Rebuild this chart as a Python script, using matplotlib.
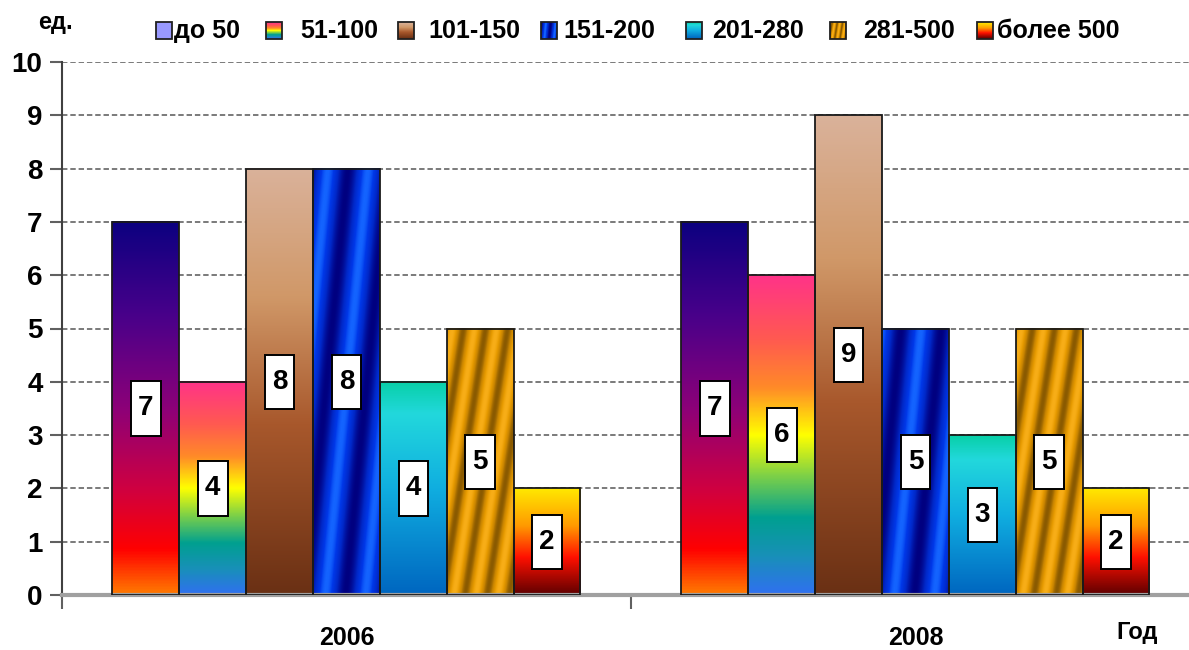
import numpy as np
import matplotlib
matplotlib.use('Agg')
import matplotlib.pyplot as plt
from matplotlib.colors import LinearSegmentedColormap
from matplotlib.patches import Rectangle

# ---------------- data ----------------
years = ['2006', '2008']
groups = ['до 50', '51-100', '101-150', '151-200', '201-280', '281-500', 'более 500']
values_2006 = [7, 4, 8, 8, 4, 5, 2]
values_2008 = [7, 6, 9, 5, 3, 5, 2]
yticks = list(range(0, 11))
y_unit = 'ед.'
x_unit = 'Год'

plt.rcParams['font.family'] = ['Liberation Sans', 'DejaVu Sans']
plt.rcParams['font.weight'] = 'bold'

# ---------------- styles ----------------
grad_stops = {
    0: [(0, '#0c0080'), (0.25, '#48008a'), (0.5, '#8c0078'), (0.72, '#d00040'), (0.88, '#ff0000'), (1, '#ff7a00')],
    1: [(0, '#ff3388'), (0.2, '#ff5a50'), (0.35, '#ff8a28'), (0.5, '#ffff00'), (0.63, '#7cd048'),
        (0.76, '#00a090'), (0.88, '#1890b8'), (1, '#3070f0')],
    2: [(0, '#dab29a'), (0.3, '#d09868'), (0.6, '#a8582c'), (1, '#6a3014')],
    4: [(0, '#08d0a8'), (0.15, '#22d8dc'), (0.5, '#10aee0'), (1, '#0066c0')],
    6: [(0, '#ffe800'), (0.35, '#ff9a00'), (0.65, '#ff1000'), (1, '#600000')],
}
stripe_styles = {
    3: ([(0, '#000080'), (0.45, '#0028c8'), (0.8, '#0038e8'), (1, '#1464ff')], 0.6, 0.1, 0.18),
    5: ([(0, '#8a5a00'), (0.35, '#c88400'), (0.7, '#e69a00'), (1, '#f8ae18')], 0.33, 0.16, 0.1),
}
legend_solid = {0: '#9999ff'}


def make_img(idx, H, W):
    H = max(int(H), 2)
    W = max(int(W), 2)
    if idx in grad_stops:
        cmap = LinearSegmentedColormap.from_list('g%d' % idx, grad_stops[idx])
        t = np.linspace(0, 1, H)
        col = cmap(t)[:, :3]
        return np.repeat(col[:, None, :], W, axis=1)
    stops, period, slant, phase = stripe_styles[idx]
    cmap = LinearSegmentedColormap.from_list('s%d' % idx, stops)
    r = np.arange(H)[:, None]
    c = np.arange(W)[None, :]
    yb = (H - 1 - r)
    u = (c - slant * yb) / W
    val = 0.5 + 0.5 * np.cos(2 * np.pi * (u - phase) / period)
    return cmap(val)[:, :, :3]


# ---------------- figure ----------------
W_PX, H_PX = 1189, 650
fig = plt.figure(figsize=(W_PX / 100, H_PX / 100), dpi=100)
ax_left = 62 / W_PX
ax_bottom = (H_PX - 595) / H_PX
ax_h = (595 - 62) / H_PX
ax = fig.add_axes([ax_left, ax_bottom, 1 - ax_left, ax_h])

n = len(groups)
bw = 0.1175
px_per_unit = 53.3
series = [values_2006, values_2008]
for yi, vals in enumerate(series):
    for gi, v in enumerate(vals):
        x0 = yi + (gi - n / 2) * bw
        img = make_img(gi, v * px_per_unit, 67)
        ax.imshow(img, extent=(x0, x0 + bw, 0, v), origin='upper', aspect='auto',
                  interpolation='bilinear', zorder=2)
        ax.add_patch(Rectangle((x0, 0), bw, v, fill=False, ec='#1a1a1a', lw=1.3, zorder=3))
        # value label box
        xc = x0 + bw / 2
        yc = v / 2
        lbw, lbh = 0.052, 1.02
        ax.add_patch(Rectangle((xc - lbw / 2, yc - lbh / 2), lbw, lbh, fc='white', ec='black',
                               lw=1.4, zorder=4))
        ax.text(xc, yc, str(v), ha='center', va='center', fontsize=20, fontweight='bold',
                color='black', zorder=5)

ax.set_xlim(-0.5, (W_PX - 345) / 570)
ax.set_ylim(0, 10)
ax.set_yticks(yticks)
ax.set_yticklabels([str(t) for t in yticks])
ax.yaxis.grid(True, ls=(0, (3, 1.6)), color='#707070', lw=1.3)
ax.set_axisbelow(True)
for s in ['top', 'right']:
    ax.spines[s].set_visible(False)
ax.spines['left'].set_color('#404040')
ax.spines['left'].set_linewidth(1.5)
ax.spines['bottom'].set_color('#a0a0a0')
ax.spines['bottom'].set_linewidth(3)
ax.tick_params(axis='y', length=9, width=1.5, color='#606060', labelsize=20, pad=5)
ax.set_xticks([0, 1])
ax.set_xticklabels(years, fontsize=18, fontweight='bold')
ax.tick_params(axis='x', which='major', length=0, pad=22)
ax.set_xticks([-0.5, 0.5], minor=True)
ax.tick_params(axis='x', which='minor', length=10, width=1.5, color='#606060', direction='out')

# ---------------- overlay for legend and unit labels ----------------
ov = fig.add_axes([0, 0, 1, 1], zorder=10)
ov.set_xlim(0, W_PX)
ov.set_ylim(H_PX, 0)
ov.axis('off')
sw_x = [156, 266, 398, 541, 686, 830, 977]
tx_x = [174, 300, 428, 563, 712, 863, 997]
for gi, name in enumerate(groups):
    x0 = sw_x[gi]
    if gi in legend_solid:
        ov.add_patch(Rectangle((x0, 22), 16, 17, fc=legend_solid[gi], ec='#202020', lw=1.3))
    else:
        ov.imshow(make_img(gi, 17, 16), extent=(x0, x0 + 16, 39, 22), origin='upper',
                  aspect='auto', interpolation='bilinear')
        ov.add_patch(Rectangle((x0, 22), 16, 17, fill=False, ec='#202020', lw=1.3))
    ov.text(tx_x[gi], 31, name, ha='left', va='center', fontsize=18, fontweight='bold')
ov.set_xlim(0, W_PX)
ov.set_ylim(H_PX, 0)
ov.text(38, 22, y_unit, ha='left', va='center', fontsize=17, fontweight='bold')
ov.text(1116, 632, x_unit, ha='left', va='center', fontsize=17, fontweight='bold')

fig.savefig('out.png', dpi=100, facecolor='white')
